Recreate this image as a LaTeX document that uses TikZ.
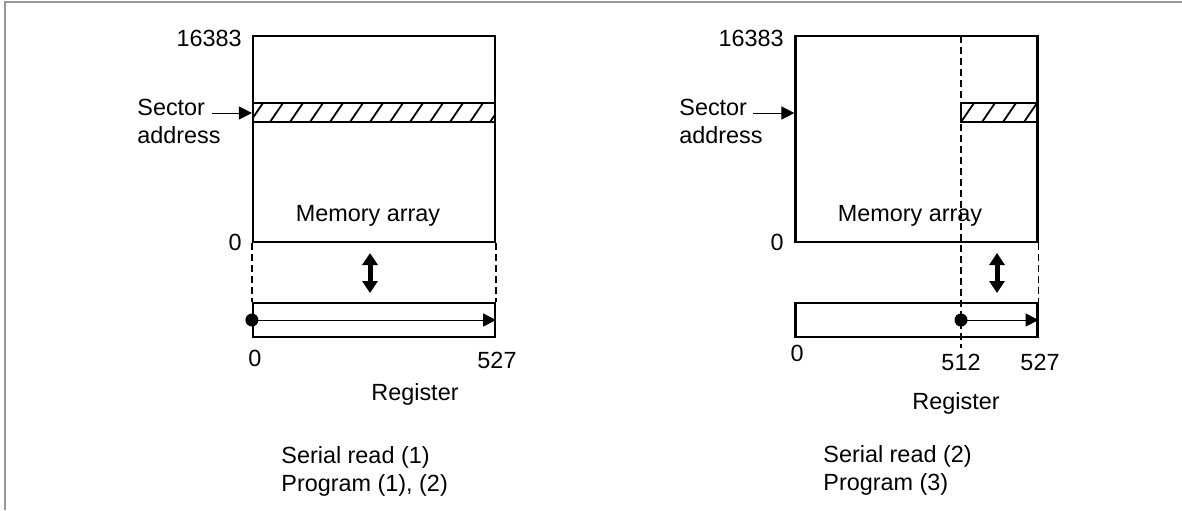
\documentclass[tikz,border=0pt]{standalone}
\usepackage{fontspec}
\setmainfont{Liberation Sans}
\usetikzlibrary{arrows.meta,positioning}

\begin{document}
\begin{tikzpicture}[x=0.5pt,y=-0.5pt,
  font=\fontsize{11.7}{14}\selectfont,
  box/.style={draw,line width=1.1pt,inner sep=0pt,minimum width=121pt},
  arr/.style={line width=0.5pt,-{Triangle[length=6.5pt,width=6.5pt]}},
  xfer/.style={line width=2.5pt,{Triangle[length=6pt,width=7.5pt]}-{Triangle[length=6pt,width=7.5pt]}},
  guide/.style={line width=0.8pt,dash pattern=on 3.5pt off 2pt},
  hatch/.style={line width=0.9pt},
  dot/.style={circle,fill,inner sep=0pt,minimum size=6.5pt},
  lbl/.style={inner sep=0pt}]
\useasboundingbox (0,0) rectangle (1182,510);
\draw[gray!80,line width=0.8pt] (5,510) -- (5,2) -- (1182,2);

% left: serial read (1)
\node[box,minimum height=103pt] (mem1) at (374,139) {};
\node[box,minimum height=17pt] (reg1) at (374,320) {};
\begin{scope}
  \clip (253,103) rectangle (495,122);
  \foreach \x in {250,270,...,490} \draw[hatch] (\x,122) -- ++(13,-19);
\end{scope}
\draw[line width=1.1pt] (253,103) rectangle (495,122);
\node[lbl,anchor=west,align=left] (sec1) at (137,121) {Sector\\address};
\coordinate (sa1) at (212,113);
\draw[arr] (sa1) -- (sa1 -| mem1.west);
\node[lbl,anchor=east] (top1) at (242,38) {16383};
\node[lbl,anchor=east] (bot1) at (242,242) {0};
\node[lbl] (ma1) at (368,216) {Memory array};
\draw[guide] (mem1.south west) -- (reg1.north west);
\draw[guide] (mem1.south east) -- (reg1.north east);
\coordinate (u1) at (370,253);
\coordinate (v1) at (370,293);
\draw[xfer] (u1) -- (v1);
\node[dot] (d1) at (reg1.west) {};
\draw[arr] (d1.center) -- (reg1.east);
\node[lbl] (r0a) at (255,358) {0};
\node[lbl] (r1a) at (497,360) {527};
\node[lbl] (rg1) at (415,394) {Register};
\node[lbl,anchor=west,align=left] (cap1) at (281,471) {Serial read (1)\\Program (1), (2)};

% right: serial read (2)
\node[box,minimum height=103pt] (mem2) at (916.5,139) {};
\node[box,minimum height=17pt] (reg2) at (916.5,320) {};
\coordinate (k2) at (961,36);
\coordinate (k2b) at (961,348);
\draw[guide] (k2) -- (k2b);
\begin{scope}
  \clip (961,103) rectangle (1038,122);
  \foreach \x in {961,982,...,1040} \draw[hatch] (\x,122) -- ++(13,-19);
\end{scope}
\draw[line width=1.1pt] (961,103) rectangle (1038,122);
\node[lbl,anchor=west,align=left] (sec2) at (679,121) {Sector\\address};
\coordinate (sa2) at (753,113);
\draw[arr] (sa2) -- (sa2 -| mem2.west);
\node[lbl,anchor=east] (top2) at (784,38) {16383};
\node[lbl,anchor=east] (bot2) at (784,242) {0};
\node[lbl] (ma2) at (910,216) {Memory array};
\draw[guide] (mem2.south east) -- (reg2.north east);
\coordinate (u2) at (997,253);
\coordinate (v2) at (997,293);
\draw[xfer] (u2) -- (v2);
\node[dot] (d2) at (961,320) {};
\draw[arr] (d2.center) -- (reg2.east);
\node[lbl] (r0b) at (797,353) {0};
\node[lbl] (r5b) at (961,362) {512};
\node[lbl] (r1b) at (1040,362) {527};
\node[lbl] (rg2) at (956,403) {Register};
\node[lbl,anchor=west,align=left] (cap2) at (823,470) {Serial read (2)\\Program (3)};
\end{tikzpicture}
\end{document}
